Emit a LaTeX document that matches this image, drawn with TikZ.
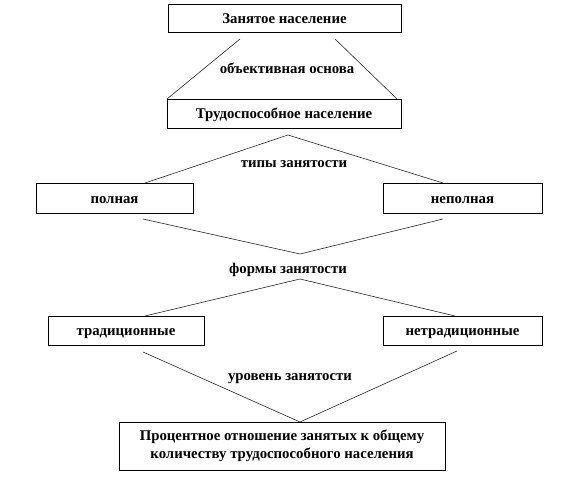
\documentclass[tikz,border=0pt]{standalone}
\usepackage{fontspec}
\setmainfont{Liberation Serif}
\begin{document}
\begin{tikzpicture}[x=1pt,y=-1pt,
  txt/.style={font=\bfseries\fontsize{14.8}{18}\selectfont},
  box/.style={draw=black, line width=0.8pt, inner sep=0pt, txt},
  sbox/.style={box, text height=10.5pt, text depth=0pt},
  lbl/.style={inner sep=1pt, txt},
  conn/.style={draw=black!85, line width=0.6pt}]
\useasboundingbox (0,0) rectangle (568,494);
% boxes
\node[sbox, minimum width=233pt, minimum height=28pt] (zan) at (284.5,18) {Занятое население};
\node[sbox, minimum width=234pt, minimum height=29pt] (trud) at (284,113.5) {Трудоспособное население};
\node[sbox, minimum width=157pt, minimum height=30pt] (poln) at (114.5,198) {полная};
\node[sbox, minimum width=159pt, minimum height=30pt] (nepoln) at (462.5,198) {неполная};
\node[sbox, minimum width=156pt, minimum height=29pt] (trad) at (126,330.5) {традиционные};
\node[sbox, minimum width=159pt, minimum height=29pt] (netrad) at (462.5,330.5) {нетрадиционные\hspace{22pt}};
\node[box, minimum width=326pt, minimum height=48pt, align=center] (proc) at (282,446)
  {Процентное отношение занятых к общему\\количеству трудоспособного населения};
% labels
\node[lbl] (l1) at (287,68) {объективная основа};
\node[lbl] (l2) at (294,164) {типы занятости};
\node[lbl] (l3) at (288,270) {формы занятости};
\node[lbl] (l4) at (290,379) {уровень занятости};
% connector points
\coordinate (z1) at (240,39);
\coordinate (z2) at (335,39);
\coordinate (t1) at (167,99);
\coordinate (t2) at (397,99);
\coordinate (a1) at (288,135);
\coordinate (p1) at (145,183);
\coordinate (p2) at (443,183);
\coordinate (p3) at (143,219);
\coordinate (p4) at (443,219);
\coordinate (a2) at (300,254);
\coordinate (a3) at (300,279);
\coordinate (q1) at (145,316);
\coordinate (q2) at (455,316);
\coordinate (q3) at (143,352);
\coordinate (q4) at (457,351);
\coordinate (a4) at (300,422);
% connectors
\draw[conn] (z1) -- (t1);
\draw[conn] (z2) -- (t2);
\draw[conn] (p1) -- (a1) -- (p2);
\draw[conn] (p3) -- (a2) -- (p4);
\draw[conn] (q1) -- (a3) -- (q2);
\draw[conn] (q3) -- (a4) -- (q4);
\end{tikzpicture}
\end{document}
